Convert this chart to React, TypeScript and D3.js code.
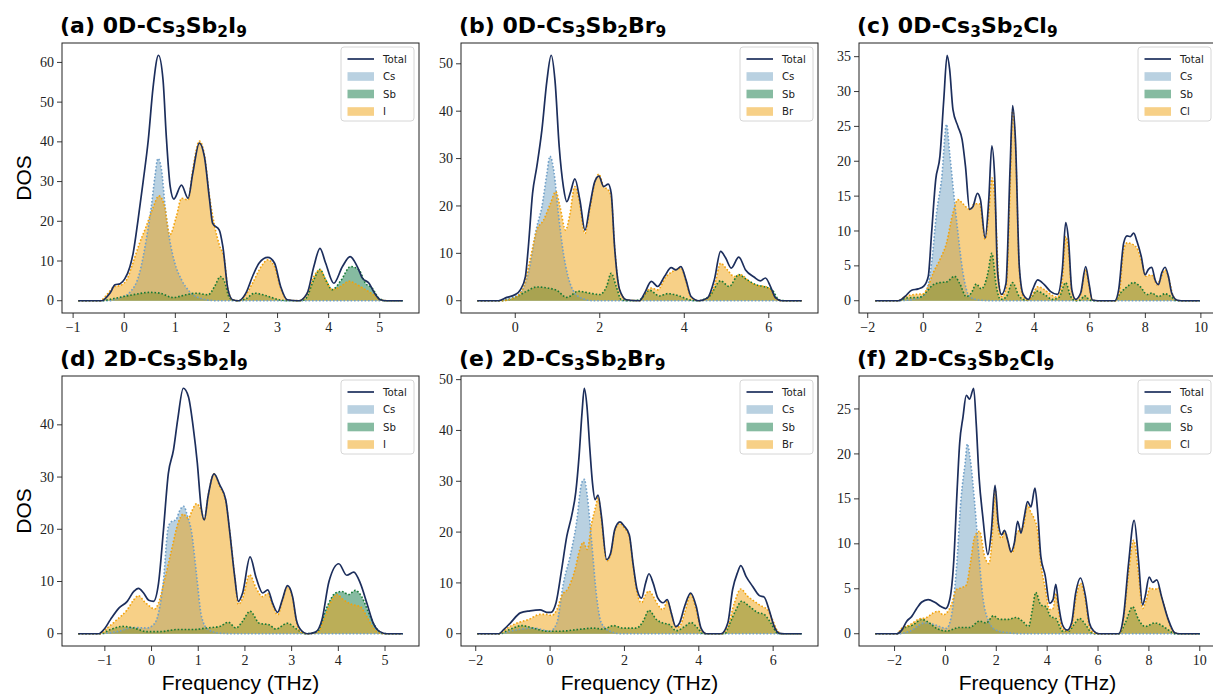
import React from 'react';
import * as d3 from 'd3';

type P = [number, number][];

// ---------- (a) 0D-Cs3Sb2I9 ----------
const aTotal: P = [[-0.9,0],[-0.44,0],[-0.28,1.9],[-0.18,4],[-0.08,4.3],[0.01,5.5],[0.11,8.5],[0.175,12],[0.27,20.3],[0.37,30],[0.47,40.4],[0.565,53.8],[0.67,61.8],[0.76,55.5],[0.82,42],[0.9,28.7],[0.97,25.6],[1.12,29.1],[1.25,25.8],[1.34,32],[1.47,39.7],[1.57,36.2],[1.67,25.4],[1.73,19.5],[1.86,17.8],[1.93,13.6],[2.03,2.8],[2.12,0.25],[2.24,0],[2.38,1.9],[2.51,6.1],[2.64,9.5],[2.81,10.9],[2.94,9.5],[3.06,3.6],[3.19,0.25],[3.42,0],[3.58,1.9],[3.71,8.6],[3.83,13.2],[3.94,9.5],[4.1,4.4],[4.27,8.6],[4.42,11.1],[4.56,8.6],[4.66,5.7],[4.79,4.4],[4.88,2.3],[5.01,0.25],[5.14,0],[5.45,0]];
const aCs: P = [[-0.9,0],[-0.3,0],[-0.1,0.7],[0.1,2],[0.3,7],[0.43,15.3],[0.53,23.7],[0.6,31.2],[0.66,35.8],[0.73,32.9],[0.8,23.7],[0.89,15.3],[0.99,9.5],[1.12,5.3],[1.28,2.3],[1.47,0.7],[1.8,0],[5.45,0]];
const aSb: P = [[-0.9,0],[-0.47,0],[-0.15,0.7],[0.17,1.5],[0.5,2.1],[0.7,1.9],[0.95,0.8],[1.21,1.5],[1.41,1.9],[1.64,1.5],[1.77,3.6],[1.88,6.1],[1.96,4.9],[2.06,0.7],[2.19,0],[2.38,0.5],[2.55,1.9],[2.77,1.3],[3.03,0.25],[3.22,0],[3.45,0],[3.55,0.5],[3.71,5.3],[3.83,7.9],[3.94,5.3],[4.07,2.8],[4.23,4.9],[4.43,8.6],[4.59,7.8],[4.72,4.4],[4.85,3.2],[4.98,0.7],[5.12,0],[5.45,0]];
const aX: P = [[-0.9,0],[-0.47,0],[-0.34,1.5],[-0.21,3.4],[-0.05,4],[0.05,5.3],[0.17,9.5],[0.3,14.5],[0.43,18.7],[0.56,23.3],[0.68,26.4],[0.79,23.7],[0.89,16.6],[1.02,21.2],[1.12,25.8],[1.25,25.4],[1.34,32.9],[1.47,40.2],[1.57,36.7],[1.67,26.2],[1.77,18.7],[1.86,14.1],[1.96,10.3],[2.03,2.8],[2.12,0.25],[2.24,0],[2.38,1.5],[2.51,4.4],[2.68,8.6],[2.81,10.3],[2.94,8.6],[3.06,3.2],[3.19,0.25],[3.42,0],[3.58,1.9],[3.71,6.1],[3.83,7.8],[3.94,5.3],[4.07,2.8],[4.23,3.6],[4.4,4.9],[4.56,4],[4.72,2.8],[4.88,1.5],[5.01,0.25],[5.14,0],[5.45,0]];

// ---------- (b) 0D-Cs3Sb2Br9 ----------
const bTotal: P = [[-0.9,0],[-0.39,0],[-0.2,0.7],[0,1.3],[0.12,2.3],[0.24,5.1],[0.31,11.4],[0.41,22.7],[0.51,28.3],[0.63,36],[0.75,46.5],[0.85,51.8],[0.94,46.5],[1.04,32.5],[1.14,24],[1.22,20.9],[1.31,23],[1.41,25.7],[1.53,21.2],[1.65,14.9],[1.76,19.8],[1.88,25.1],[1.98,26.3],[2.09,24.1],[2.2,24.6],[2.27,22.7],[2.35,11.4],[2.47,2.3],[2.63,0.2],[2.94,0],[3.06,1.6],[3.22,4.1],[3.37,3],[3.53,5.1],[3.69,7],[3.8,6.5],[3.92,7.2],[4.04,4.4],[4.16,0.9],[4.35,0],[4.55,0.6],[4.71,4.4],[4.86,10.4],[4.98,9],[5.11,6.9],[5.29,9.2],[5.45,6.5],[5.65,5],[5.8,4.2],[5.92,4.8],[6.04,3],[6.16,0.6],[6.31,0],[6.78,0]];
const bCs: P = [[-0.9,0],[-0.43,0],[-0.12,0.6],[0.12,1.6],[0.31,5.8],[0.51,15.6],[0.63,19.8],[0.75,26.9],[0.82,30.5],[0.92,26.9],[1.02,18.4],[1.14,10],[1.25,5.1],[1.41,1.6],[1.61,0.4],[1.85,0],[6.78,0]];
const bSb: P = [[-0.9,0],[-0.35,0],[0,0.7],[0.27,2],[0.51,2.9],[0.75,2.7],[0.98,2.2],[1.22,0.7],[1.49,2],[1.76,1.6],[2,1.3],[2.16,3],[2.27,5.8],[2.39,3],[2.51,0.2],[2.7,0],[2.94,0.2],[3.18,2.2],[3.41,1],[3.61,1.5],[3.88,1],[4.12,0.2],[4.3,0],[4.59,0.9],[4.86,4.2],[5.06,3],[5.29,5.5],[5.49,4.4],[5.69,3.4],[5.92,2.9],[6.08,2.3],[6.24,0.2],[6.4,0],[6.78,0]];
const bX: P = [[-0.9,0],[-0.35,0],[0,0.7],[0.2,3],[0.35,8.6],[0.51,14.9],[0.67,17],[0.82,20.2],[0.96,23],[1.06,19.8],[1.19,14.9],[1.29,18.1],[1.41,24.1],[1.51,21.2],[1.65,14.2],[1.76,19.1],[1.88,24.8],[1.98,26.7],[2.09,24.1],[2.2,23.4],[2.27,22],[2.35,11.4],[2.47,2.3],[2.63,0.2],[2.94,0],[3.06,1.3],[3.22,2.7],[3.37,2.3],[3.57,5.1],[3.73,6.2],[3.92,6.9],[4.04,4.1],[4.16,0.7],[4.35,0],[4.55,0.6],[4.71,3],[4.86,7.9],[5.02,6.5],[5.18,5.1],[5.33,5.5],[5.53,4.1],[5.73,3.2],[5.92,3],[6.04,2.3],[6.16,0.4],[6.31,0],[6.78,0]];

// ---------- (c) 0D-Cs3Sb2Cl9 ----------
const cTotal: P = [[-1.73,0],[-0.9,0],[-0.66,0.6],[-0.42,1.5],[-0.18,1.7],[0.02,2.1],[0.18,3.5],[0.3,9.7],[0.45,17.4],[0.6,20.7],[0.74,28.9],[0.86,35.2],[0.95,33.2],[1.07,27.4],[1.25,25],[1.4,23.1],[1.52,19.3],[1.67,13.1],[1.79,13.5],[1.95,15.4],[2.06,14.5],[2.23,9],[2.36,14.5],[2.47,22.2],[2.57,17.9],[2.68,4],[2.82,0.9],[2.98,2.5],[3.13,19.3],[3.22,28],[3.32,23.1],[3.46,4.9],[3.6,0.9],[3.79,0.2],[3.94,1.6],[4.12,3],[4.36,2.3],[4.59,1.3],[4.83,0.9],[5.01,4.5],[5.13,11.2],[5.23,8.8],[5.35,1.6],[5.49,0.2],[5.67,1.1],[5.85,4.9],[5.97,2.5],[6.09,0.1],[6.3,0],[6.9,0],[7.04,1.6],[7.22,8.3],[7.34,9.3],[7.46,9.2],[7.58,9.7],[7.7,8.5],[7.85,6.4],[7.99,3.7],[8.11,4.5],[8.23,4.8],[8.35,3],[8.47,2.3],[8.59,4],[8.71,4.8],[8.83,3.5],[8.95,1.1],[9.13,0.1],[9.3,0],[9.96,0]];
const cCs: P = [[-1.73,0],[-0.9,0],[-0.36,0.2],[0.06,0.9],[0.3,5.4],[0.48,12.6],[0.66,17.4],[0.84,25.3],[0.95,21.2],[1.07,16.4],[1.25,9.7],[1.43,4],[1.67,0.6],[2,0.1],[2.5,0],[9.96,0]];
const cSb: P = [[-1.73,0],[-0.9,0],[-0.6,0.4],[-0.12,0.5],[0.12,1.3],[0.36,2.3],[0.6,2.6],[0.84,2.7],[1.13,3.5],[1.31,2.5],[1.55,0.6],[1.73,1.1],[1.91,2.4],[2.09,1.7],[2.21,2.3],[2.33,4],[2.47,6.8],[2.63,2.1],[2.78,0.2],[2.98,0.5],[3.22,2.6],[3.46,0.6],[3.7,0.1],[3.94,0.7],[4.08,1.4],[4.36,0.9],[4.65,0.2],[4.89,0.5],[5.13,2.6],[5.31,0.6],[5.5,0],[5.65,0.1],[5.82,0.7],[6,0.1],[6.2,0],[6.92,0],[7.1,1.1],[7.34,2],[7.58,2.6],[7.82,2],[8.06,0.9],[8.23,1.1],[8.47,0.6],[8.71,1],[8.95,0.5],[9.13,0],[9.96,0]];
const cX: P = [[-1.73,0],[-0.9,0],[-0.66,0.6],[-0.3,0.9],[0,1],[0.18,2.1],[0.36,4],[0.6,5.9],[0.84,8.3],[1.07,12.6],[1.25,14.5],[1.43,13.9],[1.67,13.1],[1.85,13.9],[2.03,13.9],[2.23,8.8],[2.36,12.6],[2.48,17.6],[2.59,13.5],[2.71,3.5],[2.82,0.6],[2.98,1.6],[3.13,16.4],[3.22,27.4],[3.32,22.2],[3.46,4.5],[3.6,0.6],[3.79,0.1],[3.94,0.9],[4.12,2],[4.36,1.6],[4.59,0.9],[4.83,0.5],[5.01,3],[5.13,9.2],[5.23,7.3],[5.35,1.3],[5.49,0.1],[5.67,0.9],[5.85,4.5],[5.97,2.1],[6.09,0.1],[6.3,0],[6.92,0],[7.06,1.1],[7.22,7.3],[7.34,8.3],[7.58,8],[7.73,7.3],[7.88,5.4],[8.02,3.5],[8.17,3.7],[8.29,3.5],[8.41,2.3],[8.53,3],[8.71,4.4],[8.86,3],[8.98,0.9],[9.13,0.1],[9.3,0],[9.96,0]];

// ---------- (d) 2D-Cs3Sb2I9 ----------
const dTotal: P = [[-1.57,0],[-1.13,0],[-1.02,0.8],[-0.88,2.7],[-0.7,4.9],[-0.52,6.2],[-0.38,8.1],[-0.28,8.7],[-0.17,7.8],[-0.06,6.4],[0.04,6.2],[0.15,9.7],[0.25,19.3],[0.36,30.7],[0.47,35.2],[0.56,41],[0.68,47],[0.79,45.4],[0.89,39.7],[0.98,32.7],[1.06,24.4],[1.13,21.8],[1.21,26.3],[1.34,30.6],[1.46,28.5],[1.59,25.6],[1.67,19.9],[1.78,11],[1.86,6.2],[1.95,7.8],[2.11,14.7],[2.24,10.7],[2.38,7.8],[2.49,8.4],[2.59,5.9],[2.7,4.1],[2.8,6.5],[2.91,9.2],[3.02,7.1],[3.1,2.7],[3.19,0.8],[3.34,0],[3.51,0.3],[3.65,2.7],[3.8,10],[4.01,13.4],[4.18,11.2],[4.33,11.8],[4.47,9.7],[4.61,5.9],[4.75,2],[4.89,0.4],[5.04,0],[5.38,0]];
const dCs: P = [[-1.57,0],[-1.13,0],[-0.74,0.4],[-0.38,1.2],[-0.1,1.1],[0.04,1.7],[0.15,4],[0.25,9.7],[0.36,20.5],[0.43,21.5],[0.52,21.8],[0.61,23.7],[0.69,24.4],[0.77,22.5],[0.86,19.3],[0.96,11.6],[1.07,3.3],[1.21,0.8],[1.46,0.1],[1.7,0],[5.38,0]];
const dSb: P = [[-1.57,0],[-1.1,0],[-0.88,0.8],[-0.63,1.4],[-0.38,1.1],[-0.1,0.4],[0.18,0.4],[0.54,0.8],[0.89,0.8],[1.18,1.1],[1.46,1.4],[1.64,2.2],[1.81,1.1],[1.95,2.4],[2.11,4.3],[2.31,2],[2.52,1.7],[2.66,0.9],[2.91,2],[3.12,0.8],[3.3,0],[3.55,0.4],[3.76,5.2],[3.94,7.8],[4.08,8.1],[4.22,7.5],[4.36,8.3],[4.5,7.1],[4.65,4],[4.79,1.4],[4.93,0.1],[5.04,0],[5.38,0]];
const dX: P = [[-1.57,0],[-1.1,0],[-0.95,1.1],[-0.74,2.7],[-0.52,4.6],[-0.38,6.5],[-0.28,7.3],[-0.16,6.2],[-0.03,5.2],[0.06,4.7],[0.15,5.9],[0.29,10.7],[0.43,16.1],[0.57,21.2],[0.68,22.9],[0.79,22.1],[0.86,23.4],[0.96,24.9],[1.06,23.7],[1.13,21.8],[1.21,26.3],[1.34,30.6],[1.46,28.2],[1.59,25.3],[1.67,19.9],[1.78,11],[1.86,5.6],[1.95,6.8],[2.1,11.3],[2.24,8.7],[2.38,7.1],[2.49,7.7],[2.59,5.6],[2.7,3.6],[2.8,6.2],[2.91,8.9],[3.02,6.8],[3.1,2.4],[3.19,0.4],[3.34,0],[3.57,0.4],[3.69,2.7],[3.83,5.9],[3.97,7.5],[4.11,6.5],[4.29,5.6],[4.47,5.2],[4.61,3.3],[4.75,1.1],[4.89,0.1],[5.04,0],[5.38,0]];

// ---------- (e) 2D-Cs3Sb2Br9 ----------
const eTotal: P = [[-1.96,0],[-1.38,0],[-1.25,0.8],[-1.07,2.1],[-0.8,4.1],[-0.54,4.5],[-0.27,4.7],[-0.09,4.2],[0.02,4.2],[0.16,6.1],[0.31,12.6],[0.45,19.2],[0.58,23.2],[0.69,27.8],[0.78,35],[0.86,43.6],[0.92,48.3],[0.99,44.9],[1.07,36.3],[1.14,29.7],[1.21,26.4],[1.29,27.3],[1.38,23.2],[1.52,14.6],[1.63,15.9],[1.74,20.5],[1.88,22],[1.99,21.2],[2.13,19.5],[2.23,13.9],[2.34,8.7],[2.46,7],[2.57,10],[2.66,11.8],[2.77,10],[2.9,7],[3.04,6.1],[3.15,6.7],[3.26,4.1],[3.38,1.4],[3.48,2.1],[3.62,5.4],[3.78,8],[3.93,5.4],[4.06,1.1],[4.2,0],[4.6,0],[4.78,2.1],[4.91,8.7],[5.04,12],[5.13,13.4],[5.27,11.3],[5.45,9.3],[5.63,7.5],[5.76,7.2],[5.89,4.7],[6.03,1.4],[6.16,0.1],[6.3,0],[6.77,0]];
const eCs: P = [[-1.96,0],[-1.38,0],[-0.89,0.8],[-0.45,1.1],[0,0.5],[0.18,2.1],[0.36,10],[0.54,15.3],[0.71,21.8],[0.85,29.7],[0.92,30.4],[1,27.1],[1.12,17.9],[1.25,7.4],[1.38,2.1],[1.61,0.5],[1.9,0],[6.77,0]];
const eSb: P = [[-1.96,0],[-1.38,0],[-1.07,0.9],[-0.76,1.6],[-0.45,1.1],[-0.09,0.5],[0.27,0.5],[0.71,0.8],[1.16,1.1],[1.43,0.9],[1.7,1.6],[1.96,1.1],[2.32,1.1],[2.5,2.4],[2.66,4.6],[2.86,2.8],[3.04,2.1],[3.21,1.8],[3.39,0.6],[3.62,1.4],[3.79,2.2],[3.97,1.1],[4.12,0],[4.7,0],[4.82,1.8],[5,4.7],[5.15,6.4],[5.36,5.4],[5.58,4.2],[5.76,3.8],[5.94,2.1],[6.12,0.1],[6.25,0],[6.77,0]];
const eX: P = [[-1.96,0],[-1.38,0],[-1.16,1.1],[-0.89,2.1],[-0.58,2.8],[-0.27,3.8],[-0.09,3.8],[0.04,3.6],[0.18,4.7],[0.31,7.4],[0.49,9],[0.67,12.6],[0.8,16.6],[0.89,18],[1,16.6],[1.12,21.8],[1.23,25.1],[1.29,26.8],[1.38,22.5],[1.52,14.3],[1.63,15.6],[1.74,20.2],[1.88,21.7],[1.99,20.9],[2.13,19.2],[2.23,13.6],[2.34,8],[2.46,6.1],[2.57,7.7],[2.66,8.4],[2.77,7.4],[2.9,5.7],[3.04,4.7],[3.15,6.4],[3.26,4.1],[3.38,1.3],[3.48,1.4],[3.62,4.1],[3.78,7.7],[3.93,4.7],[4.06,0.9],[4.2,0],[4.6,0],[4.78,1.4],[4.96,6.1],[5.13,8.8],[5.31,7.4],[5.49,6.4],[5.67,5.5],[5.85,4.7],[5.98,2.8],[6.12,0.5],[6.25,0],[6.77,0]];

// ---------- (f) 2D-Cs3Sb2Cl9 ----------
const fTotal: P = [[-2.76,0],[-1.91,0],[-1.72,0.4],[-1.52,1.4],[-1.33,1.9],[-1.13,2.8],[-0.94,3.5],[-0.68,3.8],[-0.42,3.5],[-0.16,3],[0.01,2.8],[0.17,3.8],[0.33,8.2],[0.46,16],[0.56,21.2],[0.69,24.1],[0.82,26.5],[0.95,26.1],[1.11,27.3],[1.21,23.4],[1.32,17.5],[1.47,13],[1.67,8.8],[1.8,11.2],[1.95,16.5],[2.08,12.3],[2.21,11],[2.32,11.5],[2.45,10.4],[2.58,9.1],[2.71,10.1],[2.84,12.5],[2.97,11.2],[3.1,13],[3.23,14.7],[3.36,14.1],[3.52,16.2],[3.62,13.8],[3.75,8.6],[3.92,6.5],[4.1,3.4],[4.23,3.8],[4.34,5.5],[4.44,3.4],[4.6,1],[4.79,0.4],[4.96,1.2],[5.12,4.5],[5.31,6.2],[5.51,4.1],[5.66,1.2],[5.83,0.3],[6.03,0],[6.81,0],[7,1.9],[7.2,7.8],[7.42,12.6],[7.59,8.2],[7.75,3.2],[7.85,4.1],[8.01,6.3],[8.15,5.7],[8.31,6],[8.5,4.1],[8.76,1.6],[9.02,0.1],[9.2,0],[10,0]];
const fCs: P = [[-2.76,0],[-1.91,0],[-1.39,0.3],[-0.81,1.2],[-0.42,1],[0.04,0.6],[0.23,1.9],[0.43,7.1],[0.62,15.2],[0.78,19.1],[0.86,21.1],[0.98,19.3],[1.15,14.5],[1.32,8.6],[1.47,4.1],[1.67,1.6],[1.99,0.4],[2.5,0.1],[2.9,0],[10,0]];
const fSb: P = [[-2.76,0],[-1.91,0],[-1.65,0.6],[-1.26,1],[-0.94,1.6],[-0.68,1.3],[-0.35,0.6],[0.04,0.3],[0.56,0.7],[0.95,0.7],[1.34,1.4],[1.6,1.2],[1.89,2],[2.12,1.6],[2.45,1.6],[2.77,1.8],[3.03,1.4],[3.27,0.8],[3.42,2.7],[3.55,4.6],[3.75,3.2],[3.95,3],[4.14,1.9],[4.34,1.7],[4.6,0.3],[4.85,0.3],[5.05,1],[5.27,1.7],[5.51,1],[5.76,0.1],[6,0],[6.81,0],[7.07,1.2],[7.36,3],[7.59,1.6],[7.85,0.8],[8.24,1.2],[8.57,0.8],[8.83,0.3],[9.02,0],[10,0]];
const fX: P = [[-2.76,0],[-1.91,0],[-1.72,0.6],[-1.39,1],[-1.07,1.6],[-0.74,1.8],[-0.48,2.3],[-0.29,2.5],[-0.09,2.1],[0.04,2.3],[0.23,3.2],[0.43,4.9],[0.62,5.1],[0.82,5.4],[0.98,7.8],[1.15,10.8],[1.34,11.4],[1.54,8.6],[1.71,7.8],[1.84,10.8],[1.95,16.2],[2.08,11.5],[2.21,10.6],[2.34,11.4],[2.51,9.7],[2.64,9],[2.77,11],[2.9,11.5],[3.06,11.9],[3.23,14.3],[3.36,13.5],[3.49,12.8],[3.62,11.5],[3.75,7.8],[3.92,5.1],[4.1,2.7],[4.23,2.8],[4.34,4.5],[4.44,2.7],[4.6,0.6],[4.79,0.3],[4.96,0.8],[5.12,3.8],[5.31,5.6],[5.51,3.6],[5.66,0.8],[5.83,0.1],[6.03,0],[6.81,0],[7,1.6],[7.2,6.7],[7.4,10.4],[7.59,6.7],[7.75,2.8],[7.88,3.6],[8.05,5.1],[8.22,4.9],[8.37,5.1],[8.57,3.4],[8.79,1.2],[9.02,0.1],[9.2,0],[10,0]];

// ---------- ticks ----------
const xTicksA = [-1, 0, 1, 2, 3, 4, 5];
const xTicksB = [0, 2, 4, 6];
const xTicksC = [-2, 0, 2, 4, 6, 8, 10];
const xTicksD = [-1, 0, 1, 2, 3, 4, 5];
const xTicksE = [-2, 0, 2, 4, 6];
const xTicksF = [-2, 0, 2, 4, 6, 8, 10];
const yTicksA = [0, 10, 20, 30, 40, 50, 60];
const yTicksB = [0, 10, 20, 30, 40, 50];
const yTicksC = [0, 5, 10, 15, 20, 25, 30, 35];
const yTicksD = [0, 10, 20, 30, 40];
const yTicksE = [0, 10, 20, 30, 40, 50];
const yTicksF = [0, 5, 10, 15, 20, 25];

const labels = ['a', 'b', 'c', 'd', 'e', 'f'];
const dims = ['0D', '0D', '0D', '2D', '2D', '2D'];
const halides = ['I', 'Br', 'Cl', 'I', 'Br', 'Cl'];
const seriesNames = ['Total', 'Cs', 'Sb'];

const panels = [
  { total: aTotal, cs: aCs, sb: aSb, x: aX, xt: xTicksA, yt: yTicksA },
  { total: bTotal, cs: bCs, sb: bSb, x: bX, xt: xTicksB, yt: yTicksB },
  { total: cTotal, cs: cCs, sb: cSb, x: cX, xt: xTicksC, yt: yTicksC },
  { total: dTotal, cs: dCs, sb: dSb, x: dX, xt: xTicksD, yt: yTicksD },
  { total: eTotal, cs: eCs, sb: eSb, x: eX, xt: xTicksE, yt: yTicksE },
  { total: fTotal, cs: fCs, sb: fSb, x: fX, xt: xTicksF, yt: yTicksF },
];

const COLS = [62, 461, 859];
const ROWS = [43, 376];
const W = 357;
const H = 270;

const C_TOTAL = '#1c2e5c';
const C_CS = '#73a3c3';
const C_SB = '#0e7843';
const C_X = '#efa10f';
const E_CS = '#6f9fc8';
const E_SB = '#167a36';
const E_X = '#f2a20a';

const fmt = (v: number) => (v < 0 ? '\u2212' + Math.abs(v) : String(v));

function Panel({ idx }: { idx: number }) {
  const p = panels[idx];
  const left = COLS[idx % 3];
  const top = ROWS[Math.floor(idx / 3)];
  const xs = p.total.map((d) => d[0]);
  const x0 = d3.min(xs)!;
  const x1 = d3.max(xs)!;
  const xm = (x1 - x0) * 0.05;
  const ymax = d3.max([p.total, p.cs, p.sb, p.x].flat(), (d) => d[1])!;
  const x = d3.scaleLinear().domain([x0 - xm, x1 + xm]).range([left, left + W]);
  const y = d3.scaleLinear().domain([-0.05 * ymax, 1.05 * ymax]).range([top + H, top]);
  const area = d3
    .area<[number, number]>()
    .x((d) => x(d[0]))
    .y0(y(0))
    .y1((d) => y(d[1]))
    .curve(d3.curveMonotoneX);
  const line = d3
    .line<[number, number]>()
    .x((d) => x(d[0]))
    .y((d) => y(d[1]))
    .curve(d3.curveMonotoneX);
  const clipId = 'clip' + idx;
  const bottom = top + H;
  const lgW = 73;
  const lgH = 74;
  const lgL = left + W - 5 - lgW;
  const lgT = top + 4;
  const rowY = [12, 29.5, 47, 64.5].map((v) => lgT + v);
  const names = [...seriesNames, halides[idx]];
  const dotted = { strokeWidth: 1.6, strokeDasharray: '1.6 1.9', fill: 'none' } as const;
  return (
    <g>
      <defs>
        <clipPath id={clipId}>
          <rect x={left} y={top} width={W} height={H} />
        </clipPath>
      </defs>
      <g clipPath={`url(#${clipId})`}>
        <path d={area(p.cs)!} fill={C_CS} fillOpacity={0.5} />
        <path d={area(p.sb)!} fill={C_SB} fillOpacity={0.5} />
        <path d={area(p.x)!} fill={C_X} fillOpacity={0.5} />
        <path d={line(p.cs)!} stroke={E_CS} {...dotted} />
        <path d={line(p.sb)!} stroke={E_SB} {...dotted} />
        <path d={line(p.x)!} stroke={E_X} {...dotted} />
        <path d={line(p.total)!} stroke={C_TOTAL} strokeWidth={1.7} fill="none" />
      </g>
      <rect x={left} y={top} width={W} height={H} fill="none" stroke="#222" strokeWidth={1} />
      {p.xt.map((t) => (
        <g key={'x' + t}>
          <line x1={x(t)} x2={x(t)} y1={bottom} y2={bottom + 5} stroke="#222" strokeWidth={0.9} />
          <text x={x(t)} y={bottom + 19} textAnchor="middle" fontFamily="Liberation Serif" fontSize={14} fill="#222">
            {fmt(t)}
          </text>
        </g>
      ))}
      {p.yt.map((t) => (
        <g key={'y' + t}>
          <line x1={left - 5} x2={left} y1={y(t)} y2={y(t)} stroke="#222" strokeWidth={0.9} />
          <text x={left - 8} y={y(t) + 4.6} textAnchor="end" fontFamily="Liberation Serif" fontSize={14} fill="#222">
            {fmt(t)}
          </text>
        </g>
      ))}
      <text x={left - 2} y={top - 10} fontFamily="DejaVu Sans" fontWeight="bold" fontSize={22} fill="#000">
        ({labels[idx]}) {dims[idx]}-Cs
        <tspan dy={4.4} fontSize={15.4}>3</tspan>
        <tspan dy={-4.4}>Sb</tspan>
        <tspan dy={4.4} fontSize={15.4}>2</tspan>
        <tspan dy={-4.4}>{halides[idx]}</tspan>
        <tspan dy={4.4} fontSize={15.4}>9</tspan>
      </text>
      <rect x={lgL} y={lgT} width={lgW} height={lgH} rx={3} fill="#fff" fillOpacity={0.8} stroke="#d6d6d6" strokeWidth={1} />
      <line x1={lgL + 6.5} x2={lgL + 33} y1={rowY[0]} y2={rowY[0]} stroke={C_TOTAL} strokeWidth={1.7} />
      {[C_CS, C_SB, C_X].map((c, i) => (
        <rect key={c} x={lgL + 6.5} y={rowY[i + 1] - 4.3} width={26.5} height={8.6} fill={c} fillOpacity={0.5} />
      ))}
      {names.map((n, i) => (
        <text key={n} x={lgL + 42} y={rowY[i] + 3.7} fontFamily="DejaVu Sans" fontSize={10.2} fill="#222">
          {n}
        </text>
      ))}
    </g>
  );
}

export default function App() {
  const rowMid = ROWS.map((t) => t + H / 2);
  return (
    <svg width={1213} height={698} style={{ position: 'absolute', left: 0, top: 0, background: '#fff' }}>
      <rect x={0} y={0} width={1213} height={698} fill="#fff" />
      {panels.map((_, i) => (
        <Panel key={i} idx={i} />
      ))}
      {rowMid.map((m) => (
        <text key={m} transform={`translate(31,${m}) rotate(-90)`} textAnchor="middle" fontFamily="Liberation Sans" fontSize={21} fill="#000">
          DOS
        </text>
      ))}
      {COLS.map((c) => (
        <text key={c} x={c + W / 2} y={690} textAnchor="middle" fontFamily="Liberation Sans" fontSize={21} fill="#000">
          Frequency (THz)
        </text>
      ))}
    </svg>
  );
}
